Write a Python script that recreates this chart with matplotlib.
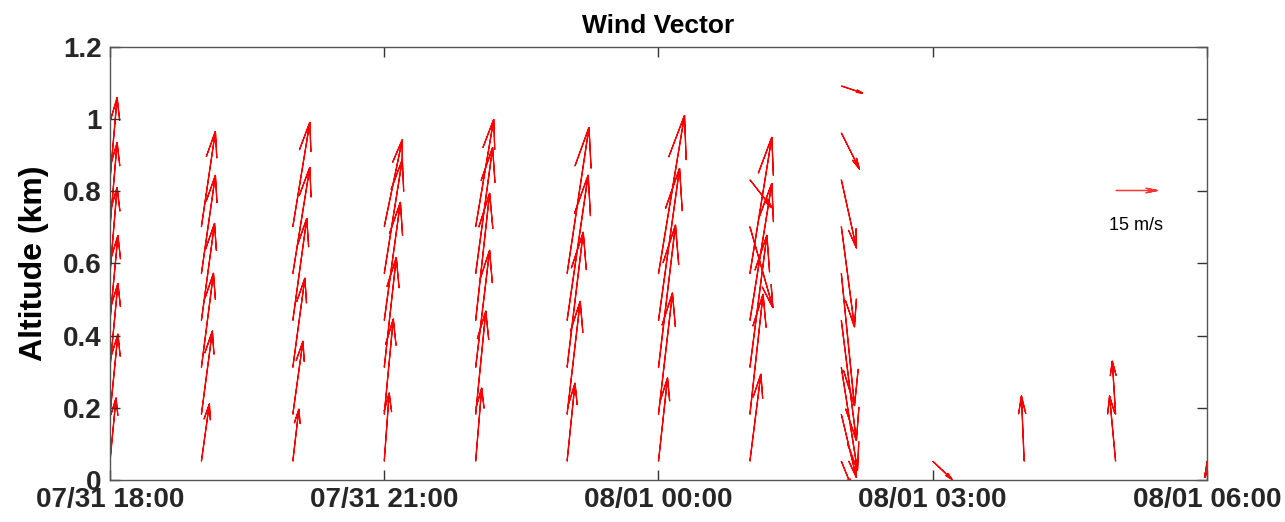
"""
Wind vector profile (quiver) over a night of profiler soundings.
"""
import numpy as np
import pandas as pd
import matplotlib
matplotlib.use("Agg")
import matplotlib.pyplot as plt
import matplotlib.dates as mdates
from matplotlib.ticker import FixedLocator, FixedFormatter

plt.rcParams['font.family'] = ['Liberation Sans', 'DejaVu Sans']

nan = np.nan

# sounding times (hourly profiles)
times = ["2019-07-31 18:00", "2019-07-31 19:00", "2019-07-31 20:00",
         "2019-07-31 21:00", "2019-07-31 22:00", "2019-07-31 23:00",
         "2019-08-01 00:00", "2019-08-01 01:00", "2019-08-01 02:00",
         "2019-08-01 03:00", "2019-08-01 04:00", "2019-08-01 05:00",
         "2019-08-01 06:00"]

# range gates (km)
altitudes = [0.052, 0.182, 0.312, 0.442, 0.572, 0.702, 0.832, 0.962, 1.092]

# east-west component (m/s), one row per time, one value per gate
u_wind = [
    [2.2, 2.9, 2.9, 2.9, 2.6, 2.6, 2.6, nan, nan],
    [2.9, 4.0, 4.4, 4.8, 5.1, 5.1, nan, nan, nan],
    [2.2, 3.7, 4.4, 5.1, 6.2, 6.2, nan, nan, nan],
    [1.8, 3.3, 4.4, 5.9, 6.6, 6.6, nan, nan, nan],
    [2.2, 3.7, 5.1, 5.1, 6.2, 6.6, nan, nan, nan],
    [2.9, 4.8, 5.9, 7.7, 8.0, nan, nan, nan, nan],
    [3.3, 5.1, 6.2, 7.7, 9.5, nan, nan, nan, nan],
    [4.0, 4.8, 6.2, 8.0, 8.0, 8.4, 8.0, nan, nan],
    [3.7, 5.5, 5.9, 5.5, 4.8, 4.8, 5.5, 6.6, 7.7],
    [7.0, nan, nan, nan, nan, nan, nan, nan, nan],
    [-1.0, nan, nan, nan, nan, nan, nan, nan, nan],
    [-2.2, -1.2, nan, nan, nan, nan, nan, nan, nan],
    [-0.7, nan, nan, nan, nan, nan, nan, nan, nan],
]

# north-south component (m/s)
v_wind = [
    [23.1, 29.3, 30.7, 31.1, 31.5, 30.7, 30.0, nan, nan],
    [20.9, 30.4, 34.4, 35.5, 35.9, 34.8, nan, nan, nan],
    [19.0, 26.7, 32.6, 37.3, 38.8, 38.1, nan, nan, nan],
    [24.9, 34.8, 40.2, 43.2, 41.7, 31.8, nan, nan, nan],
    [26.7, 37.7, 42.8, 46.5, 46.1, 39.2, nan, nan, nan],
    [28.5, 41.3, 49.4, 53.1, 53.4, nan, nan, nan, nan],
    [30.4, 44.3, 52.0, 55.6, 57.8, nan, nan, nan, nan],
    [31.8, 43.9, 48.3, 50.1, 49.8, -29.6, -10.2, nan, nan],
    [-9.1, -23.1, -37.7, -43.9, -48.3, -36.6, -24.9, -13.2, -2.6],
    [-6.6, nan, nan, nan, nan, nan, nan, nan, nan],
    [23.8, nan, nan, nan, nan, nan, nan, nan, nan],
    [23.8, 19.4, nan, nan, nan, nan, nan, nan, nan],
    [-5.9, nan, nan, nan, nan, nan, nan, nan, nan],
]

ytick_values = [0, 0.2, 0.4, 0.6, 0.8, 1.0, 1.2]
ytick_labels = ["0", "0.2", "0.4", "0.6", "0.8", "1", "1.2"]
xtick_times = ["2019-07-31 18:00", "2019-07-31 21:00", "2019-08-01 00:00",
               "2019-08-01 03:00", "2019-08-01 06:00"]
key_speed = 15

# grid of tails
t_num = mdates.date2num(pd.to_datetime(times).to_pydatetime())
T, Z = np.meshgrid(t_num, altitudes, indexing='ij')
U = np.array(u_wind)
V = np.array(v_wind)
mask = ~np.isnan(U)

fig = plt.figure(figsize=(12.85, 5.22), dpi=100)
ax = fig.add_axes([0.0856, 0.0805, 0.8537, 0.8295])

# open "V" heads scaled with arrow length, as in the original quiver
q = ax.quiver(T[mask], Z[mask], U[mask], V[mask],
              angles='uv', scale_units='dots', scale=key_speed / 41.0,
              units='dots', width=0.3, headlength=162, headwidth=66,
              headaxislength=0, minshaft=3.7,
              color='#ff0000', edgecolors='#ff0000', linewidths=0.9)

ax.quiverkey(q, 0.9357, 0.67, key_speed, f"{key_speed} m/s", labelpos='S',
             coordinates='axes', color='#ff3333', labelsep=0.27,
             fontproperties={'size': 13})

x_start = mdates.date2num(pd.Timestamp(xtick_times[0]).to_pydatetime())
x_end = mdates.date2num(pd.Timestamp(xtick_times[-1]).to_pydatetime())
ax.set_xlim(x_start, x_end)
ax.set_ylim(ytick_values[0], ytick_values[-1])

xt = mdates.date2num(pd.to_datetime(xtick_times).to_pydatetime())
ax.xaxis.set_major_locator(FixedLocator(xt))
ax.xaxis.set_major_formatter(mdates.DateFormatter('%m/%d %H:%M'))
ax.yaxis.set_major_locator(FixedLocator(ytick_values))
ax.yaxis.set_major_formatter(FixedFormatter(ytick_labels))

ax.tick_params(direction='in', length=7, width=1, color='#333333',
               top=True, right=True, labelsize=20, labelcolor='#262626', pad=6)
ax.tick_params(axis='x', pad=5)
for lab in ax.get_xticklabels() + ax.get_yticklabels():
    lab.set_fontweight('bold')
for sp in ax.spines.values():
    sp.set_color('#555555')
    sp.set_linewidth(1)

ax.set_ylabel("Altitude (km)", fontsize=23, fontweight='bold', labelpad=10)
ax.set_title("Wind Vector", fontsize=19, fontweight='bold', pad=10)

fig.savefig("out.png", dpi=100)
